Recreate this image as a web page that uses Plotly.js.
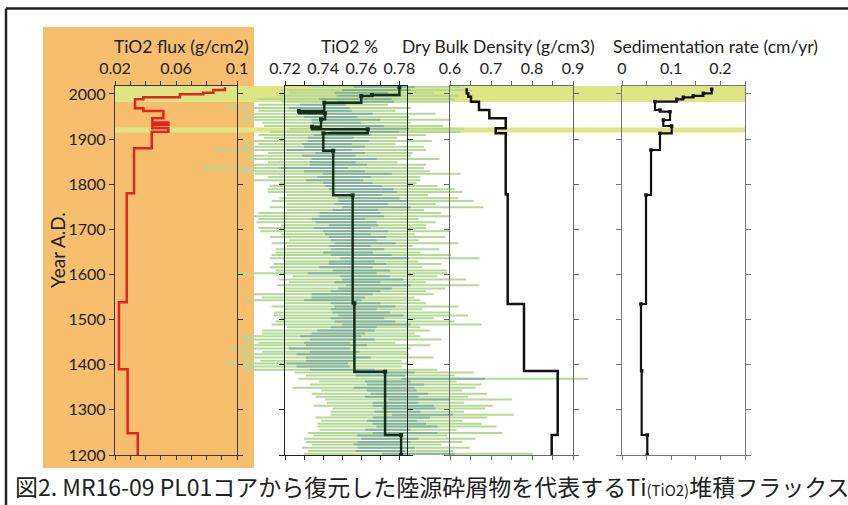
<!DOCTYPE html>
<html><head><meta charset="utf-8">
<script src="https://cdn.plot.ly/plotly-3.0.1.min.js"></script>
<style>html,body{margin:0;padding:0;background:#fff}#chart{width:848px;height:505px}</style>
</head><body><div id="chart"></div>
<script>
// ---------- DATA ----------
const yearTicks = [1200,1300,1400,1500,1600,1700,1800,1900,2000];

// TiO2 flux (g/cm2): step profile, year = top of each interval
const fluxYear = [2014.8,2008.9,2002.9,1999.3,1992.7,1988.2,1968.3,1962.3,1946.2,1936.6,1931.3,1924.0,1916.5,1879.7,1780,1538.4,1389.9,1248.1,1200];
const fluxVal  = [0.0921,0.0845,0.0779,0.0626,0.0386,0.0331,0.0386,0.0517,0.0445,0.0550,0.0445,0.0550,0.0441,0.0325,0.0277,0.0226,0.0283,0.0349,0.0349];
const fluxTicks = [0.02,0.03,0.04,0.05,0.06,0.07,0.08,0.09,0.1];
const fluxTickText = ['0.02','','','','0.06','','','','0.1'];

// TiO2 % : step profile (mean)
const tio2StepYear = [2015.5,1997.8,1995.6,1980.7,1962.3,1957.2,1943.9,1927.5,1921.8,1912.9,1874.4,1775.5,1536.2,1384.6,1244.3,1200];
const tio2StepVal  = [0.780,0.7656,0.760,0.7406,0.7273,0.741,0.7389,0.7342,0.7634,0.7401,0.7453,0.7555,0.7564,0.7725,0.7809,0.7809];
const tio2Ticks = [0.72,0.73,0.74,0.75,0.76,0.77,0.78];
const tio2TickText = ['0.72','','0.74','','0.76','','0.78'];

// TiO2 % individual samples with 1-sigma / 2-sigma errors
const tio2SampleYear = [2016,2009,2003,1996,1989,1983,1976,1969,1963,1956,1949,1943,1936,1929,1923,1916,1909,1903,1896,1889,1883,1876,1869,1863,1856,1849,1843,1836,1829,1823,1816,1809,1803,1796,1789,1783,1776,1769,1763,1756,1749,1743,1736,1729,1723,1716,1709,1703,1696,1689,1683,1676,1669,1663,1656,1649,1643,1636,1629,1623,1616,1609,1603,1596,1589,1583,1576,1569,1563,1556,1549,1543,1536,1529,1523,1516,1509,1503,1496,1489,1483,1476,1469,1463,1456,1449,1443,1436,1429,1423,1416,1409,1403,1396,1389,1383,1376,1369,1363,1356,1349,1343,1336,1329,1323,1316,1309,1303,1296,1289,1283,1276,1269,1263,1256,1249,1243,1236,1229,1223,1216,1209,1203];
const tio2Sample = [0.772,0.768,0.760,0.764,0.757,0.762,
 0.740,0.738,0.742,0.749,0.744,0.752,0.747,0.756,
 0.768,0.762,
 0.750,0.744,0.748,0.742,0.746,0.738,0.749,0.743,0.751,0.745,0.748,0.735,
 0.746,0.758,0.751,0.746,0.753,0.756,0.760,
 0.762,0.758,0.764,0.766,0.760,0.768,0.757,0.754,
 0.755,0.748,0.752,0.756,0.750,0.757,0.753,0.758,
 0.756,0.762,0.754,0.758,0.753,0.760,0.767,0.755,0.758,0.752,
 0.760,0.750,0.762,0.766,0.758,0.769,0.762,0.757,
 0.750,0.748,0.745,
 0.757,0.762,0.756,0.760,0.765,0.758,0.762,0.768,0.756,0.752,
 0.748,0.744,0.750,0.742,0.747,0.738,0.746,0.741,0.748,0.744,0.737,0.740,0.750,
 0.772,0.770,0.803,0.774,0.778,0.772,0.776,0.780,0.776,
 0.790,0.778,0.782,0.785,0.779,0.792,0.781,0.776,0.780,0.784,0.774,
 0.783,0.770,0.775,0.772,0.768,0.773,0.770,0.790];
const tio2Err1 = [0.016,0.018,0.014,0.017,0.019,0.015,
 0.012,0.016,0.013,0.017,0.014,0.018,0.013,0.016,
 0.017,0.018,
 0.015,0.012,0.016,0.013,0.016,0.017,0.013,0.014,0.017,0.012,0.015,0.018,
 0.016,0.018,0.014,0.015,0.013,0.015,0.017,
 0.017,0.013,0.016,0.018,0.014,0.018,0.012,0.016,
 0.017,0.014,0.016,0.013,0.015,0.017,0.012,0.015,
 0.012,0.016,0.011,0.014,0.013,0.016,0.018,0.012,0.015,0.014,
 0.015,0.018,0.013,0.016,0.012,0.017,0.014,0.013,
 0.016,0.014,0.015,
 0.013,0.016,0.012,0.015,0.017,0.014,0.016,0.018,0.012,0.015,
 0.014,0.016,0.017,0.012,0.016,0.016,0.013,0.015,0.017,0.013,0.016,0.014,0.017,
 0.016,0.013,0.022,0.012,0.015,0.016,0.013,0.015,0.014,
 0.016,0.012,0.016,0.014,0.012,0.016,0.015,0.013,0.014,0.016,0.012,
 0.017,0.012,0.015,0.014,0.012,0.015,0.013,0.019];
const tio2Err2 = [0.040,0.050,0.038,0.047,0.052,0.044,
 0.034,0.048,0.036,0.050,0.041,0.055,0.039,0.047,
 0.046,0.050,
 0.044,0.035,0.049,0.036,0.047,0.056,0.038,0.043,0.050,0.034,0.046,0.058,
 0.050,0.054,0.040,0.045,0.036,0.044,0.049,
 0.051,0.037,0.047,0.053,0.039,0.056,0.036,0.048,
 0.052,0.042,0.047,0.038,0.044,0.050,0.035,0.046,
 0.034,0.049,0.033,0.043,0.038,0.047,0.055,0.035,0.044,0.040,
 0.045,0.055,0.038,0.049,0.036,0.053,0.042,0.037,
 0.048,0.040,0.046,
 0.037,0.049,0.036,0.046,0.051,0.040,0.047,0.055,0.035,0.044,
 0.040,0.047,0.052,0.036,0.049,0.048,0.038,0.044,0.050,0.037,0.048,0.041,0.050,
 0.047,0.039,0.076,0.036,0.045,0.048,0.037,0.046,0.040,
 0.049,0.036,0.047,0.040,0.035,0.048,0.045,0.037,0.043,0.047,0.036,
 0.051,0.035,0.045,0.041,0.034,0.044,0.038,0.060];

// Dry bulk density (g/cm3)
const dbdYear = [2012.6,2001.5,1994.1,1983,1964.5,1946.2,1924,1912.9,1777.7,1534.6,1386.1,1244.3,1200];
const dbdVal  = [0.6407,0.6446,0.6512,0.6707,0.6959,0.7359,0.7115,0.7359,0.7407,0.7805,0.8627,0.848,0.848];
const dbdTicks = [0.6,0.65,0.7,0.75,0.8,0.85,0.9];
const dbdTickText = ['0.6','','0.7','','0.8','','0.9'];

// Sedimentation rate (cm/yr)
const sedYear = [2010.4,2001.5,1995.6,1992.7,1988.2,1983,1964.5,1960.8,1942.4,1929.1,1912.9,1875.9,1776.2,1534.6,1386.8,1244.3,1200];
const sedVal  = [0.1823,0.1652,0.1449,0.1246,0.1112,0.0671,0.0772,0.0976,0.0840,0.1010,0.0772,0.0590,0.0488,0.0386,0.0400,0.0514,0.0514];
const sedTicks = [0,0.05,0.1,0.15,0.2,0.25];
const sedTickText = ['0','','0.1','','0.2',''];

// highlighted intervals (years)
const bandTop = [2017.7,1925.5];
const bandBottom = [1982,1914.5];

// ---------- LAYOUT HELPERS ----------
const W = 848, H = 505;
const fx = p => p / W;
const fy = p => 1 - p / H;
const plotTop = 86, plotBot = 455;
const yDom = [fy(plotBot), fy(plotTop)];
const yRange = [1200, 2017.7];
const P = {flux:[115,237], tio2:[285,407], dbd:[450,573], sed:[622,745]};
const tio2Range = [0.72, 0.784];
const greenSpan = [150, 620];
const upp = (tio2Range[1]-tio2Range[0])/(P.tio2[1]-P.tio2[0]);
const greenRange = [tio2Range[0]-(P.tio2[0]-greenSpan[0])*upp, tio2Range[1]+(greenSpan[1]-P.tio2[1])*upp];

const FONT = 'Lato, "Noto Sans", sans-serif';
const tickFont = {family: FONT, size: 16, color: '#222'};

function xAx(dom, range, tv, tt, lc, yId) {
  return {domain:[fx(dom[0]), fx(dom[1])], range: range, side:'top', anchor: yId,
    tickmode:'array', tickvals: tv, ticktext: tt, ticks:'outside', ticklen:4, tickwidth:1, tickcolor: lc,
    showline:true, linecolor: lc, linewidth:1.3, mirror:'ticks', showgrid:false, zeroline:false,
    tickfont: tickFont, fixedrange:true};
}
function yAx(xId, showLabels, lc) {
  return {domain: yDom, range: yRange, anchor: xId, tickmode:'array', tickvals: yearTicks,
    ticks:'outside', ticklen:5, tickwidth:1, tickcolor: lc, showline:true, linecolor: lc, linewidth:1.3,
    mirror:'ticks', showgrid:false, zeroline:false, showticklabels: showLabels, tickfont: tickFont, fixedrange:true};
}

const traces = [
  // green sample error bars (wide invisible subplot so bars may overflow the panel)
  {type:'scatter', mode:'markers', x: tio2Sample, y: tio2SampleYear, xaxis:'x', yaxis:'y',
   marker:{size:1, color:'rgba(0,0,0,0)'}, hoverinfo:'skip',
   error_x:{type:'data', array: tio2Err2, symmetric:true, color:'#b5d996', thickness:2, width:0}},
  {type:'scatter', mode:'markers', x: tio2Sample, y: tio2SampleYear, xaxis:'x', yaxis:'y',
   marker:{size:1, color:'rgba(0,0,0,0)'}, hoverinfo:'skip',
   error_x:{type:'data', array: tio2Err1, symmetric:true, color:'#84b39d', thickness:2, width:0}},
  // flux
  {type:'scatter', mode:'lines', x: fluxVal, y: fluxYear, xaxis:'x2', yaxis:'y2',
   line:{shape:'vh', color:'#e8231d', width:2.5}},
  // TiO2 % mean
  {type:'scatter', mode:'lines+markers', x: tio2StepVal, y: tio2StepYear, xaxis:'x3', yaxis:'y3',
   line:{shape:'vh', color:'#14301a', width:2.5}, marker:{symbol:'square', size:4, color:'#14301a'}},
  // dry bulk density
  {type:'scatter', mode:'lines', x: dbdVal, y: dbdYear, xaxis:'x4', yaxis:'y4',
   line:{shape:'vh', color:'#111', width:2.5}},
  // sedimentation rate
  {type:'scatter', mode:'lines+markers', x: sedVal, y: sedYear, xaxis:'x5', yaxis:'y5',
   line:{shape:'vh', color:'#111', width:2.2}, marker:{symbol:'square', size:3.5, color:'#111'}}
];

const shapes = [
  {type:'rect', xref:'paper', yref:'paper', x0: fx(43), x1: fx(254), y0: fy(468), y1: fy(27),
   fillcolor:'#f6be6d', line:{width:0}, layer:'below'},
  // outer frame (top and left)
  {type:'line', xref:'paper', yref:'paper', x0: fx(6), x1: 1, y0: fy(8.5), y1: fy(8.5), line:{color:'#222', width:2.5}},
  {type:'line', xref:'paper', yref:'paper', x0: fx(6), x1: fx(6), y0: fy(8.5), y1: 0, line:{color:'#222', width:2.5}}
];
for (let i = 0; i < bandTop.length; i++) {
  shapes.push({type:'rect', xref:'paper', yref:'y', x0: fx(P.flux[0]), x1: fx(P.sed[1]),
    y0: bandBottom[i], y1: bandTop[i], fillcolor:'#dde585', line:{width:0}, layer:'below'});
}

const ann = (text, xp, yp, size, extra) => Object.assign({text: text, xref:'paper', yref:'paper',
  x: fx(xp), y: fy(yp), showarrow:false, font:{family: FONT, size: size, color:'#222'},
  xanchor:'center', yanchor:'middle'}, extra || {});

const annotations = [
  ann('TiO2 flux (g/cm2)', 181.5, 47, 17.5),
  ann('TiO2 %', 349, 47, 17.5),
  ann('Dry Bulk Density (g/cm3)', 498, 47, 17.5),
  ann('Sedimentation rate (cm/yr)', 715, 47, 17.5),
  ann('Year A.D.', 57, 250, 19, {textangle:-90}),
  ann('図2. MR16-09 PL01コアから復元した陸源砕屑物を代表するTi<span style="font-size:15px">(TiO2)</span>堆積フラックス',
      13, 486, 23, {xanchor:'left', font:{family:'"Noto Sans CJK JP", sans-serif', size:23, color:'#222'}})
];

const layout = {
  width: W, height: H, margin:{l:0, r:0, t:0, b:0}, paper_bgcolor:'#fff', plot_bgcolor:'rgba(0,0,0,0)',
  showlegend:false, shapes: shapes, annotations: annotations,
  xaxis:{domain:[fx(greenSpan[0]), fx(greenSpan[1])], range: greenRange, visible:false, anchor:'y', fixedrange:true},
  yaxis:{domain: yDom, range: yRange, visible:false, anchor:'x', fixedrange:true},
  xaxis2: xAx(P.flux, [0.02,0.1], fluxTicks, fluxTickText, '#3a3a3a', 'y2'),
  yaxis2: yAx('x2', true, '#3a3a3a'),
  xaxis3: xAx(P.tio2, tio2Range, tio2Ticks, tio2TickText, '#222', 'y3'),
  yaxis3: yAx('x3', false, '#222'),
  xaxis4: xAx(P.dbd, [0.6,0.9], dbdTicks, dbdTickText, '#666', 'y4'),
  yaxis4: yAx('x4', false, '#666'),
  xaxis5: xAx(P.sed, [0,0.25], sedTicks, sedTickText, '#777', 'y5'),
  yaxis5: yAx('x5', false, '#777')
};

Plotly.newPlot('chart', traces, layout, {displayModeBar:false, staticPlot:true});
</script></body></html>
